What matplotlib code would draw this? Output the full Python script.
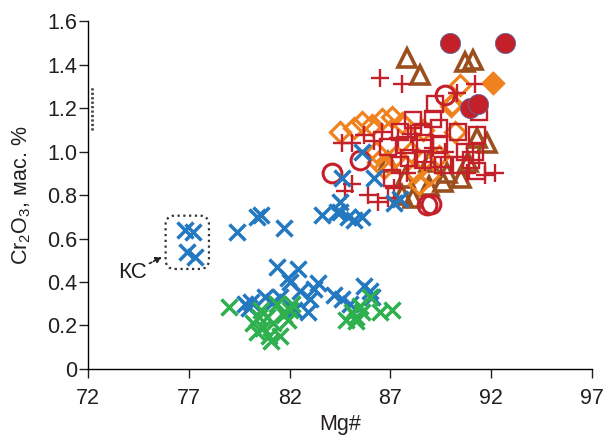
import matplotlib
matplotlib.use("Agg")
import matplotlib.pyplot as plt
from matplotlib.patches import FancyBboxPatch
from matplotlib.ticker import FuncFormatter

plt.rcParams['font.family'] = ['Liberation Sans', 'DejaVu Sans']
plt.rcParams['text.color'] = '#231f20'
plt.rcParams['xtick.color'] = '#231f20'
plt.rcParams['ytick.color'] = '#231f20'
plt.rcParams['axes.labelcolor'] = '#231f20'

# Mg# vs Cr2O3 (wt %)
blue_x = [76.8, 77.2, 76.9, 77.3, 79.4, 80.4, 80.6, 81.7, 83.6, 84.35, 84.6, 85.6, 86.2,
          84.5, 84.5, 85.2, 85.6, 84.9, 87.2, 87.5,
          81.4, 82.4, 81.9, 80.1, 80.8, 81.5, 82.5, 83.4, 83.0, 82.9, 84.2, 84.6,
          85.7, 86.1, 82.2, 82.0, 80.0, 79.8, 81.2, 83.2, 85.0, 86.0]
blue_y = [0.64, 0.63, 0.54, 0.515, 0.63, 0.70, 0.71, 0.65, 0.71, 0.72, 0.88, 1.0, 0.88,
          0.77, 0.72, 0.685, 0.70, 0.70, 0.765, 0.78,
          0.47, 0.46, 0.42, 0.31, 0.33, 0.33, 0.36, 0.395, 0.32, 0.26, 0.34, 0.32,
          0.38, 0.33, 0.27, 0.40, 0.28, 0.30, 0.31, 0.37, 0.30, 0.36]

green_x = [79.0, 80.5, 80.9, 80.7, 81.0, 81.5, 81.1, 81.4, 82.0, 81.9, 80.2, 80.6, 81.2,
           80.4, 81.7, 85.1, 85.3, 85.6, 86.0, 86.5, 87.1, 84.8, 85.3, 85.5, 82.1]
green_y = [0.285, 0.24, 0.24, 0.19, 0.15, 0.15, 0.13, 0.30, 0.27, 0.225, 0.21, 0.27, 0.21,
           0.17, 0.25, 0.26, 0.24, 0.26, 0.33, 0.26, 0.27, 0.225, 0.22, 0.29, 0.30]

square_x = [89.2, 91.4, 88.1, 89.1, 87.5, 88.6, 89.4, 90.35, 91.3, 86.9, 87.7, 88.7, 89.4,
            90.7, 91.2, 87.9, 88.6, 89.6, 90.5, 91.0, 87.5, 87.1, 91.3]
square_y = [1.22, 1.18, 1.145, 1.15, 1.09, 1.09, 1.11, 1.09, 1.075, 1.02, 1.03, 1.04, 1.03,
            1.0, 1.0, 0.97, 0.96, 0.94, 0.94, 0.96, 0.94, 0.88, 0.91]

plus_x = [86.5, 87.6, 91.2, 90.3, 85.7, 86.2, 86.6, 87.4, 85.1, 89.1, 91.7, 92.2, 85.9,
          86.9, 86.4, 87.2, 85.1, 88.7, 89.7, 88.0, 88.5, 89.5, 87.8, 90.8, 84.6, 84.75]
plus_y = [1.34, 1.31, 1.31, 1.27, 1.075, 1.05, 1.09, 1.06, 1.04, 1.015, 0.89, 0.9, 0.80,
          0.785, 0.77, 0.83, 0.85, 0.95, 1.0, 1.08, 1.12, 0.93, 0.9, 0.9, 1.04, 0.82]

diamond_x = [92.1, 90.05, 90.45, 90.0, 85.2, 85.6, 86.1, 86.6, 87.1, 90.2, 86.3, 86.4, 86.7,
             88.2, 88.9, 88.4, 84.5, 87.6, 88.0, 87.3, 89.4, 88.6]
diamond_y = [1.315, 1.22, 1.305, 1.21, 1.11, 1.135, 1.12, 1.15, 1.16, 1.09, 1.0, 0.95, 0.925,
             0.905, 0.89, 0.85, 1.09, 1.13, 1.0, 0.98, 0.98, 1.1]

triangle_x = [87.8, 88.47, 90.7, 91.1, 91.3, 91.8, 90.85, 89.6, 90.5, 87.6, 88.9, 88.1,
              86.9, 87.7, 88.9, 89.8]
triangle_y = [1.43, 1.35, 1.41, 1.42, 1.06, 1.04, 0.95, 0.86, 0.88, 0.80, 0.84, 0.785,
              0.95, 0.88, 0.95, 0.9]

ocircle_x = [89.7, 88.8, 84.1, 85.5, 89.0]
ocircle_y = [1.26, 0.755, 0.90, 0.96, 0.76]

fcircle_x = [89.96, 92.68, 90.95, 91.35]
fcircle_y = [1.50, 1.50, 1.20, 1.22]

fig = plt.figure(figsize=(6.04, 4.36), dpi=100)
ax = fig.add_axes([0.1457, 0.1537, 0.8344, 0.798])

red = '#c4202a'
ax.plot(triangle_x, triangle_y, '^', ms=13.5, mfc='none', mec='#9b4f1d', mew=2.6, ls='none')
ax.plot(diamond_x, diamond_y, 'D', ms=10, mfc='none', mec='#f0821e', mew=2.3, ls='none')
ax.plot(square_x, square_y, 's', ms=11.5, mfc='none', mec=red, mew=1.7, ls='none')
ax.plot(plus_x, plus_y, '+', ms=13.5, mec=red, mew=1.7, ls='none')
ax.plot(ocircle_x, ocircle_y, 'o', ms=13.5, mfc='none', mec=red, mew=2.2, ls='none')
# one filled diamond on the right
ax.plot(diamond_x[:1], diamond_y[:1], 'D', ms=10, mfc='#f0821e', mec='#f0821e', mew=1.5, ls='none')
ax.plot(fcircle_x, fcircle_y, 'o', ms=14.5, mfc=red, mec='#5a6aa0', mew=0.6, ls='none')
ax.plot(blue_x, blue_y, 'x', ms=12, mec='#2478c0', mew=2.5, ls='none')
ax.plot(green_x, green_y, 'x', ms=12, mec='#2eb04f', mew=2.5, ls='none')

# dotted outline around the KC group
box = FancyBboxPatch((75.85, 0.46), 2.15, 0.245,
                     boxstyle='round,pad=0,rounding_size=0.45',
                     mutation_aspect=0.0927, fill=False, ec='#333333',
                     lw=1.6, ls=(0, (1, 1.6)))
ax.add_patch(box)
ax.annotate('КС', xy=(75.67, 0.515), xytext=(74.2, 0.445),
            fontsize=16, ha='center', va='center',
            arrowprops=dict(arrowstyle='-|>', color='#222222', lw=1.2,
                            ls=(0, (1.5, 1.2)), mutation_scale=9,
                            shrinkA=14, shrinkB=0))

# short dotted mark next to the axis
ax.plot([72.2, 72.2], [1.10, 1.30], color='#444444', lw=2, ls=(0, (0.8, 0.8)),
        clip_on=False)

ax.set_xlim(72, 97)
ax.set_ylim(0, 1.6)
ax.set_xticks([72, 77, 82, 87, 92, 97])
ax.set_yticks([0, 0.2, 0.4, 0.6, 0.8, 1.0, 1.2, 1.4, 1.6])
ax.yaxis.set_major_formatter(FuncFormatter(lambda v, p: '0' if v == 0 else f'{v:.1f}'))
for s in ['top', 'right']:
    ax.spines[s].set_visible(False)
for s in ['left', 'bottom']:
    ax.spines[s].set_linewidth(1.0)
ax.tick_params(direction='out', length=6.5, width=1, labelsize=15.5)
ax.tick_params(axis='x', pad=7)
ax.tick_params(axis='y', pad=1)
ax.set_xlabel('Mg#', fontsize=15.5, labelpad=4)
ax.set_ylabel(r'Cr$_\mathregular{2}$O$_\mathregular{3}$, мас. %', fontsize=15.5, labelpad=10.5)

fig.savefig('out.png', dpi=100)
